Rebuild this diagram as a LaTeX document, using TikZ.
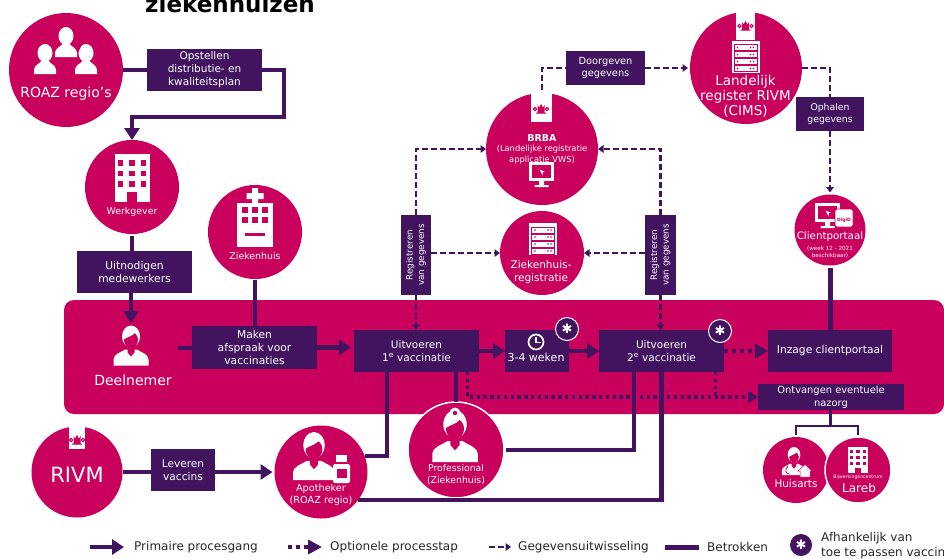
\documentclass[tikz,border=0pt]{standalone}
\usepackage{fontspec}
\setmainfont{DejaVu Sans}
\usetikzlibrary{arrows.meta,calc}
\definecolor{robijn}{HTML}{CA005D}
\definecolor{violet}{HTML}{42145F}
\def\fs#1#2{\fontsize{#1}{#2}\selectfont}
\tikzset{
	circ/.style={circle, fill=robijn, inner sep=0, outer sep=0},
	ringcirc/.style={circ, draw=white, line width=1.5pt},
	stepbox/.style={rectangle, fill=violet, text=white, align=center, inner sep=0, outer sep=0},
	lbl/.style={text=white, align=center, inner sep=0},
	primary/.style={draw=violet, line width=4.5pt, -{Triangle[length=12pt,width=15pt]}},
	involved/.style={draw=violet, line width=4.2pt},
	optional/.style={draw=violet, line width=3.4pt, dash pattern=on 3.4pt off 3.4pt, -{Triangle[length=10pt,width=12pt]}},
	exchange/.style={draw=violet, line width=2.4pt, dash pattern=on 6pt off 3pt, -{Triangle[length=5.5pt,width=7.5pt]}},
	star/.style={circle, fill=violet, draw=white, line width=1pt, text=white, inner sep=0, minimum size=23pt, font=\fs{13}{13}},
	legend/.style={text=black!85, inner sep=0, anchor=west, font=\fs{12}{14}},
}
\def\personicon(#1)(#2){\begin{scope}[shift={(#1)},scale=#2]
	\fill[white] (-17.5,20) -- (-17.5,14) .. controls (-17,8) and (-10,7) .. (-6,4) -- (6,4) .. controls (10,7) and (17,8) .. (17.5,14) -- (17.5,20) -- cycle;
	\fill[robijn] (-3.5,0) -- (3.5,0) -- (3.5,7) -- (0,11) -- (-3.5,7) -- cycle;
	\fill[white] (0,-9) ellipse (9 and 11);
	\fill[robijn] (0,-5.5) ellipse (7 and 8);
	\fill[white] (-7.5,-6) .. controls (-4,-8.5) and (2,-9.5) .. (4,-13) -- (-6,-15) -- cycle;
\end{scope}}
\def\silhouette(#1)(#2){\begin{scope}[shift={(#1)},scale=#2]
	\fill[white] (0,-1) ellipse (7.5 and 9);
	\fill[white] (-11,20) -- (-11,16) .. controls (-11,11) and (-5,10) .. (-3,6) -- (3,6) .. controls (5,10) and (11,11) .. (11,16) -- (11,20) -- cycle;
\end{scope}}
\def\buildingicon(#1)(#2){\begin{scope}[shift={(#1)},scale=#2]
	\fill[white] (-17.5,-24) rectangle (17.5,24);
	\foreach \wx in {-11.5,0,11.5} \foreach \wy in {-15,-4.5,6}
		\fill[robijn] (\wx-2.8,\wy-2.8) rectangle (\wx+2.8,\wy+2.8);
	\fill[robijn] (-5,14) rectangle (5,24);
\end{scope}}
\def\servericon(#1)(#2){\begin{scope}[shift={(#1)},scale=#2]
	\fill[white] (-14,-16) rectangle (14,16);
	\foreach \rij in {-12,-5,2,9} {
		\draw[robijn, line width=.7pt] (-11.5,\rij) rectangle (11.5,\rij+6);
		\fill[robijn] (-8,\rij+3) circle (.8) (5,\rij+3) circle (.8) (8,\rij+3) circle (.8);
	}
\end{scope}}
\def\monitoricon(#1)(#2){\begin{scope}[shift={(#1)},scale=#2]
	\fill[white] (-12.5,-12.5) rectangle (12.5,6.5);
	\fill[robijn] (-9.5,-9.5) rectangle (9.5,3.5);
	\fill[white] (-2,-5) -- (3,-3) -- (1,-2) -- (1,1) -- cycle;
	\fill[white] (-2.5,6) rectangle (2.5,10.5) (-7,10.5) rectangle (7,12.5);
\end{scope}}
\def\crest(#1){\begin{scope}[shift={(#1)}]
	\draw[robijn, line width=1pt] (-6,-1) circle (1.6) (6,-1) circle (1.6) (-5,3) -- (5,3);
	\fill[robijn] (-3.5,-5) -- (-2,-2.5) -- (0,-6) -- (2,-2.5) -- (3.5,-5) -- (3.5,3) -- (-3.5,3) -- cycle;
\end{scope}}

\begin{document}
\begin{tikzpicture}[x=1pt,y=-1pt]
	\useasboundingbox (0,0) rectangle (944,558);
	
	%%%%% BAND %%%%%
	\fill[robijn, rounded corners=10pt] (64,300) rectangle (944,414);
	
	\node[text=black, anchor=base, inner sep=0, font=\bfseries\fs{23}{23}] (titel) at (230,12) {ziekenhuizen};
	
	%%%%% CIRCLES %%%%%
	\node[circ, minimum size=114pt] (roaz) at (66,70) {};
	\node[circ, minimum size=94pt] (werkgever) at (132,187) {};
	\node[circ, minimum size=94pt] (ziekenhuis) at (255,232) {};
	\node[circ, minimum size=112pt] (brba) at (542,149) {};
	\node[circ, minimum size=84pt] (zhreg) at (542,253) {};
	\node[circ, minimum size=112pt] (landelijk) at (746,68) {};
	\node[circ, minimum size=71pt] (client) at (830,230) {};
	\node[circ, minimum size=91pt] (rivm) at (77,472) {};
	\node[circ, minimum size=93pt] (apotheker) at (321,472) {};
	\node[ringcirc, minimum size=96pt] (prof) at (456,450) {};
	\node[circ, minimum size=66pt] (huisarts) at (796,470) {};
	\node[ringcirc, minimum size=66pt] (lareb) at (858,470) {};
	
	%%%%% BOXES %%%%%
	\node[stepbox, minimum width=115pt, minimum height=42pt, font=\fs{10.5}{13}] (plan) at (204.5,70) {Opstellen\\distributie- en\\kwaliteitsplan};
	\node[stepbox, minimum width=115pt, minimum height=42pt, font=\fs{10.7}{13}] (uitnodigen) at (134.5,272) {Uitnodigen\\medewerkers};
	\node[stepbox, minimum width=125pt, minimum height=43pt, font=\fs{10.7}{13}] (maken) at (254.5,347.5) {Maken\\afspraak voor\\vaccinaties};
	\node[stepbox, minimum width=125pt, minimum height=42pt, font=\fs{10.5}{13}] (uitv1) at (416.5,351) {Uitvoeren\\1\textsuperscript{e} vaccinatie};
	\node[stepbox, minimum width=64pt, minimum height=42pt] (wachten) at (537,350.5) {};
	\node[stepbox, minimum width=125pt, minimum height=42pt, font=\fs{10.5}{13}] (uitv2) at (661.5,351) {Uitvoeren\\2\textsuperscript{e} vaccinatie};
	\node[stepbox, minimum width=124pt, minimum height=42pt, font=\fs{10.7}{13}] (inzage) at (830,351) {Inzage clientportaal};
	\node[stepbox, minimum width=146pt, minimum height=26pt, font=\fs{9.9}{13}] (ontvangen) at (831,397) {Ontvangen eventuele\\nazorg};
	\node[stepbox, minimum width=64pt, minimum height=42pt, font=\fs{10.6}{13}] (leveren) at (183,470) {Leveren\\vaccins};
	\node[stepbox, minimum width=79pt, minimum height=34pt, font=\fs{9.8}{12}] (doorgeven) at (605.5,68) {Doorgeven\\gegevens};
	\node[stepbox, minimum width=68pt, minimum height=34pt, font=\fs{9.3}{12}] (ophalen) at (830,114) {Ophalen\\gegevens};
	\node[stepbox, minimum width=30pt, minimum height=80pt] (regl) at (416,255) {};
	\node[stepbox, minimum width=31pt, minimum height=80pt] (regr) at (660.5,255) {};
	\node[lbl, rotate=90, font=\fs{8.8}{11.5}] (regltext) at (416,255) {Registreren\\van gegevens};
	\node[lbl, rotate=90, font=\fs{8.8}{11.5}] (regrtext) at (660.5,255) {Registreren\\van gegevens};
	
	%%%%% TABS %%%%%
	\fill[white] (531,92) rectangle (552,122);
	\crest(541,110);
	\fill[white] (736,11) rectangle (755,40);
	\crest(745.5,27);
	\fill[white] (69,426) rectangle (85,449);
	\crest(77,441);
	
	%%%%% ICONS %%%%%
	\silhouette(45,54)(1);
	\silhouette(86,54)(1);
	\fill[robijn] (66,40) ellipse (16 and 18);
	\silhouette(66,37)(1);
	\buildingicon(132,178)(1);
	\fill[white] (237,203) rectangle (273,247);
	\foreach \wx in {-10,0,10} \foreach \wy in {-15,-5}
		\fill[robijn] (255+\wx-2.8,225+\wy-2.8) rectangle (255+\wx+2.8,225+\wy+2.8);
	\fill[robijn] (245,233) rectangle (265,236);
	\fill[white] (252,188) rectangle (258,204) (246.5,193) rectangle (263.5,199);
	\servericon(543,239)(1);
	\servericon(745.5,56.5)(1);
	\monitoricon(541.5,174.5)(1);
	\monitoricon(827.5,215.5)(1);
	\fill[white, draw=robijn, line width=.8pt, rounded corners=2pt] (835,209) rectangle (853,227);
	\node[text=robijn, inner sep=0, font=\bfseries\fs{4.5}{5}] (digid) at (844,220) {DigiD};
	\personicon(131,345.5)(1);
	\personicon(314,456)(1.2);
	\fill[white] (336,455) rectangle (347,462);
	\fill[white, rounded corners=2pt] (333,464) rectangle (350,483);
	\fill[robijn] (337,469) rectangle (347,478);
	\personicon(455,436)(1.3);
	\fill[white] (455,413) circle (5.5);
	\fill[robijn] (455,413) circle (2.2);
	\personicon(794,461)(.7);
	\draw[robijn, line width=.8pt] (788,466) .. controls (784,470) and (786,474) .. (789,474);
	\fill[white, draw=robijn, line width=.5pt] (798,471) -- (805,464.5) -- (812,471) -- (810,471) -- (810,477) -- (800,477) -- (800,471) -- cycle;
	\buildingicon(858,460)(.55);
	\draw[white, line width=1.7pt] (536,342) circle (7.5);
	\draw[white, line width=1.5pt] (536,337) -- (536,342.5) -- (541,342.5);
	
	%%%%% CIRCLE LABELS %%%%%
	\node[lbl, font=\fs{14}{16}] (roazlbl) at (66,94) {ROAZ regio's};
	\node[lbl, font=\fs{9.4}{11}] (werkgeverlbl) at (132,212) {Werkgever};
	\node[lbl, font=\fs{9.4}{11}] (ziekenhuislbl) at (255,256) {Ziekenhuis};
	\node[lbl, font=\fs{8.3}{10.5}] (brbalbl) at (542,149) {\textbf{\fs{9.5}{10.5}BRBA}\\(Landelijke registratie\\applicatie VWS)};
	\node[lbl, font=\fs{10.5}{12.5}] (zhreglbl) at (541,272) {Ziekenhuis-\\registratie};
	\node[lbl, font=\fs{13.5}{15}] (landelijklbl) at (745.5,96) {Landelijk\\register RIVM\\(CIMS)};
	\node[lbl, font=\fs{10.3}{12}] (clientlbl) at (830,237) {Clientportaal};
	\node[lbl, font=\fs{5.6}{7}] (clientsub) at (830,252.5) {(week 12 - 2021\\beschikbaar)};
	\node[lbl, font=\fs{21}{24}] (rivmlbl) at (77,475) {RIVM};
	\node[lbl, font=\fs{9.7}{11.5}] (apothekerlbl) at (321,495) {Apotheker\\(ROAZ regio)};
	\node[lbl, font=\fs{9.3}{12}] (proflbl) at (456,475) {Professional\\(Ziekenhuis)};
	\node[lbl, font=\fs{10.4}{11}] (huisartslbl) at (796,484) {Huisarts};
	\node[lbl, font=\fs{4.6}{5}] (lareblbl) at (858,477) {Bijwerkingencentrum};
	\node[lbl, font=\fs{12}{12}] (lareblbltwee) at (859,488) {Lareb};
	\node[lbl, font=\fs{14}{15}] (deelnemer) at (133,380) {Deelnemer};
	\node[lbl, font=\fs{11}{12}] (wachtenlbl) at (536,357) {3-4 weken};
	
	\node[star] (sterwacht) at (567,329) {✱};
	\node[star] (stertwee) at (720,331) {✱};
	
	%%%%% PRIMARY %%%%%
	\coordinate (planbend) at (284,117);
	\coordinate (deelnemertop) at (131,323);
	\coordinate (deelnemerout) at (178,348);
	\draw[involved] (roaz.east) -- (plan.west);
	\draw[primary] (plan.east) -| (planbend) -| (werkgever.north);
	\draw[involved] ([yshift=-2pt]werkgever.south) -- (uitnodigen.north -| werkgever.south);
	\draw[primary] (uitnodigen.south -| deelnemertop) -- (deelnemertop);
	\draw[involved] ([yshift=-1pt]ziekenhuis.south) -- (ziekenhuis.south |- maken.north);
	\draw[involved] (deelnemerout) -- (deelnemerout -| maken.west);
	\draw[primary, shorten >=3pt] (maken.east) -- (uitv1.west |- maken.east);
	\draw[primary] (uitv1.east) -- (wachten.west |- uitv1.east);
	\draw[primary] (wachten.east |- uitv2.west) -- (uitv2.west);
	\draw[involved] (rivm.east) -- (rivm.east -| leveren.west);
	\draw[primary, shorten >=2pt] (leveren.east |- rivm.east) -- (apotheker.west);
	
	%%%%% OPTIONAL %%%%%
	\draw[optional, line width=4pt, dash pattern=on 4pt off 4pt, -{Triangle[length=13pt,width=14pt]}] (uitv2.east) -- (inzage.west);
	\draw[optional] ([xshift=51pt]uitv1.south) |- (ontvangen.west);
	\draw[optional, -] ([xshift=54pt]uitv2.south) -- ([xshift=54pt]uitv2.south |- ontvangen.west);
	
	%%%%% EXCHANGE %%%%%
	\draw[exchange, -] ([yshift=3pt]brba.north) |- (doorgeven.west);
	\draw[exchange] (doorgeven.east) -- ([xshift=-2pt]landelijk.west);
	\draw[exchange, -] (landelijk.east) -| (ophalen.north);
	\draw[exchange, shorten >=2pt] (ophalen.south) -- (client.north);
	\draw[exchange] (regl.north) |- (brba.west);
	\draw[exchange] (regr.north) |- (brba.east);
	\draw[exchange] (regl.east |- zhreg.west) -- (zhreg.west);
	\draw[exchange] (regr.west |- zhreg.east) -- (zhreg.east);
	\draw[exchange] (regl.south) -- (regl.south |- uitv1.north);
	\draw[exchange] (regr.south) -- (regr.south |- uitv2.north);
	
	%%%%% INVOLVED %%%%%
	\coordinate (nazorgsplit) at (830,426);
	\draw[involved] (apotheker.20) -| ([xshift=-29.5pt]uitv1.south);
	\draw[involved] (apotheker.-37) -| (uitv2.south);
	\draw[involved] (prof.north) -- (prof.north |- uitv1.south);
	\draw[involved] ([xshift=2pt]prof.east) -| ([xshift=-27.5pt]uitv2.south);
	\draw[involved, line width=5pt] ([yshift=-2.5pt]client.south) -- (inzage.north);
	\draw[involved, line width=3pt] (ontvangen.south -| nazorgsplit) -- (nazorgsplit);
	\draw[involved, line width=2.5pt, shorten <=2pt] (huisarts.north) |- (nazorgsplit);
	\draw[involved, line width=2.5pt, shorten <=2pt] (lareb.north) |- (nazorgsplit);
	
	%%%%% LEGEND %%%%%
	\coordinate (legprima) at (90,547);
	\coordinate (legprimb) at (124,547);
	\coordinate (legopta) at (288,547);
	\coordinate (legoptb) at (322,547);
	\coordinate (legexa) at (489,547);
	\coordinate (legexb) at (511,547);
	\coordinate (legbeta) at (665,547);
	\coordinate (legbetb) at (699,547);
	\draw[primary] (legprima) -- (legprimb);
	\draw[optional, line width=4pt, dash pattern=on 4pt off 4pt, -{Triangle[length=14pt,width=14pt]}] (legopta) -- (legoptb);
	\draw[exchange, line width=2.5pt] (legexa) -- (legexb);
	\draw[involved, line width=5pt] (legbeta) -- (legbetb);
	\node[legend] (legprimlbl) at (134,547) {Primaire procesgang};
	\node[legend] (legoptlbl) at (330,547) {Optionele processtap};
	\node[legend] (legexlbl) at (518,547) {Gegevensuitwisseling};
	\node[legend] (legbetlbl) at (707,547) {Betrokken};
	\node[star, draw=none, minimum size=22pt] (legster) at (801,545) {✱};
	\node[legend] (legafh) at (821,538) {Afhankelijk van};
	\node[legend] (legtoe) at (821,553) {toe te passen vaccin};
\end{tikzpicture}
\end{document}
